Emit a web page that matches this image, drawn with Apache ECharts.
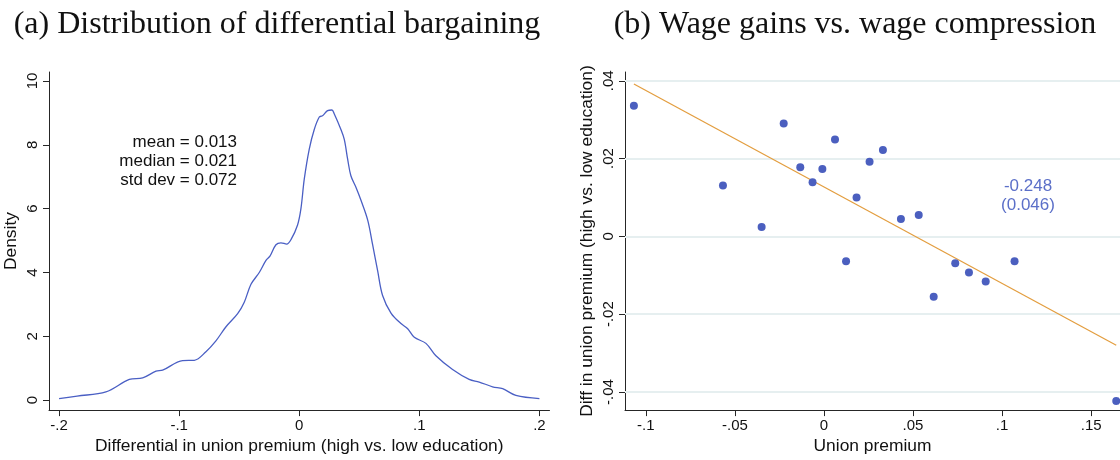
<!DOCTYPE html>
<html>
<head>
<meta charset="utf-8">
<script src="https://cdn.jsdelivr.net/npm/echarts@6/dist/echarts.min.js"></script>
<style>
  html, body { margin: 0; padding: 0; background: #fff; }
  #chart { width: 1120px; height: 460px; }
</style>
</head>
<body>
<div id="chart"></div>
<script>
// (a) kernel density of the differential union premium
var densityX = [-0.200, -0.185, -0.161, -0.1415, -0.1304, -0.1193, -0.1138, -0.0971, -0.0874, -0.0777,
  -0.0694, -0.061, -0.0513, -0.0458, -0.0402, -0.0333, -0.0277, -0.0244, -0.0194, -0.0152,
  -0.0105, -0.0069, -0.0014, 0.0014, 0.0042, 0.0083, 0.0125, 0.0167, 0.0194, 0.0236,
  0.0272, 0.0291, 0.0347, 0.0375, 0.0403, 0.043, 0.0472, 0.0514, 0.057, 0.0611,
  0.0653, 0.0694, 0.0764, 0.0847, 0.0903, 0.0958, 0.1055, 0.1138, 0.1277, 0.1415,
  0.1499, 0.161, 0.1694, 0.1804, 0.200];
var densityY = [0.05, 0.13, 0.26, 0.65, 0.70, 0.91, 0.94, 1.24, 1.25, 1.52,
  1.86, 2.30, 2.71, 3.07, 3.63, 4.00, 4.38, 4.51, 4.87, 4.93,
  4.89, 5.03, 5.49, 6.00, 6.93, 7.86, 8.48, 8.87, 8.91, 9.07,
  9.09, 8.97, 8.48, 8.17, 7.55, 7.03, 6.67, 6.26, 5.64, 4.87,
  4.05, 3.28, 2.73, 2.40, 2.24, 1.97, 1.78, 1.39, 0.96, 0.65,
  0.57, 0.42, 0.36, 0.15, 0.05];
var densityXTicks = [-0.2, -0.1, 0, 0.1, 0.2];
var densityYTicks = [0, 2, 4, 6, 8, 10];
var densityStats = ['mean = 0.013', 'median = 0.021', 'std dev = 0.072'];

// (b) binned scatter: union premium vs. diff in premium
var premiumX = [-0.1067, -0.0567, -0.035, -0.0226, -0.0133, -0.0064, -0.0009, 0.0062, 0.0124, 0.0183,
  0.0256, 0.0331, 0.0432, 0.0532, 0.0616, 0.0737, 0.0814, 0.0908, 0.1070, 0.1641];
var diffY = [0.0336, 0.0131, 0.0024, 0.0290, 0.0178, 0.0139, 0.0173, 0.0249, -0.0064, 0.0100,
  0.0192, 0.0222, 0.0045, 0.0055, -0.0155, -0.0069, -0.0093, -0.0116, -0.0064, -0.0423];
var fitSlope = -0.248;
var fitIntercept = 0.0127;
var fitText = ['-0.248', '(0.046)'];
var scatterXTicks = [-0.1, -0.05, 0, 0.05, 0.1, 0.15];
var scatterYTicks = [-0.04, -0.02, 0, 0.02, 0.04];

function stataFmt(v) {
  if (v === 0) return '0';
  return String(v).replace('0.', '.');
}

var sans = 'Liberation Sans, Arial, sans-serif';
var axisCol = '#262626';

function valueAxis(idx, min, max, ticks, fmt, isY) {
  return {
    type: 'value',
    gridIndex: idx,
    min: min,
    max: max,
    axisLine: { show: true, onZero: false, lineStyle: { color: axisCol, width: 1 } },
    axisTick: { show: true, length: 6, customValues: ticks, lineStyle: { color: axisCol } },
    axisLabel: {
      customValues: ticks,
      formatter: fmt,
      color: '#111',
      fontFamily: sans,
      fontSize: 15,
      margin: isY ? 9 : 8,
      rotate: isY ? 90 : 0
    },
    splitLine: { show: false }
  };
}

var densityData = densityX.map(function (x, i) { return [x, densityY[i]]; });
var scatterData = premiumX.map(function (x, i) { return [x, diffY[i]]; });
var xLo = Math.min.apply(null, premiumX);
var xHi = Math.max.apply(null, premiumX);
var fitData = [[xLo, fitIntercept + fitSlope * xLo], [xHi, fitIntercept + fitSlope * xHi]];

var chart = echarts.init(document.getElementById('chart'));

var xa0 = valueAxis(0, -0.2084, 0.2084, densityXTicks, stataFmt, false);
xa0.name = 'Differential in union premium (high vs. low education)';
var ya0 = valueAxis(0, -0.31, 10.28, densityYTicks, function (v) { return String(v); }, true);
ya0.name = 'Density';
var xa1 = valueAxis(1, -0.1117, 0.1662, scatterXTicks, stataFmt, false);
xa1.name = 'Union premium';
var ya1 = valueAxis(1, -0.04466, 0.04227, scatterYTicks, stataFmt, true);
ya1.name = 'Diff in union premium (high vs. low education)';

[xa0, xa1].forEach(function (a) {
  a.nameLocation = 'middle';
  a.nameGap = 24;
  a.nameTextStyle = { color: '#111', fontFamily: sans, fontSize: 17.4 };
});
[ya0, ya1].forEach(function (a) {
  a.nameLocation = 'middle';
  a.nameGap = 29;
  a.nameTextStyle = { color: '#111', fontFamily: sans, fontSize: 17.4 };
});

chart.setOption({
  animation: false,
  backgroundColor: '#fff',
  title: [
    {
      text: '(a) Distribution of differential bargaining',
      left: 272, top: 4, textAlign: 'center',
      textStyle: { fontFamily: 'Liberation Serif, serif', fontSize: 32, fontWeight: 'normal', color: '#111' }
    },
    {
      text: '(b) Wage gains vs. wage compression',
      left: 850, top: 4, textAlign: 'center',
      textStyle: { fontFamily: 'Liberation Serif, serif', fontSize: 32, fontWeight: 'normal', color: '#111' }
    }
  ],
  grid: [
    { left: 49, top: 72, width: 500.5, bottom: 46 },
    { left: 625, top: 72, right: 0, bottom: 46 }
  ],
  xAxis: [xa0, xa1],
  yAxis: [ya0, ya1],
  graphic: [
    {
      type: 'text', x: 237, y: 161,
      style: {
        text: densityStats.join('\n'),
        align: 'right', verticalAlign: 'middle',
        font: '17px ' + sans, fill: '#111', lineHeight: 19
      }
    },
    {
      type: 'text', x: 1028, y: 196,
      style: {
        text: fitText.join('\n'),
        align: 'center', verticalAlign: 'middle',
        font: '17px ' + sans, fill: '#5b6fc8', lineHeight: 19
      }
    }
  ],
  series: [
    {
      name: 'density',
      type: 'line',
      xAxisIndex: 0, yAxisIndex: 0,
      data: densityData,
      showSymbol: false,
      smooth: 0.35,
      lineStyle: { color: '#4a5fc4', width: 1.3 }
    },
    {
      name: 'gridlines',
      type: 'line',
      xAxisIndex: 1, yAxisIndex: 1,
      data: [],
      z: 1,
      markLine: {
        silent: true,
        z: 1,
        symbol: ['none', 'none'],
        label: { show: false },
        lineStyle: { color: '#e6eff0', width: 1.8, type: 'solid' },
        data: scatterYTicks.map(function (v) { return { yAxis: v }; })
      }
    },
    {
      name: 'fit',
      type: 'line',
      xAxisIndex: 1, yAxisIndex: 1,
      data: fitData,
      showSymbol: false,
      z: 6,
      lineStyle: { color: '#e39d3e', width: 1.2 }
    },
    {
      name: 'bins',
      type: 'scatter',
      xAxisIndex: 1, yAxisIndex: 1,
      data: scatterData,
      symbolSize: 8,
      z: 7,
      itemStyle: { color: '#4b5fbf', opacity: 1 }
    }
  ]
});
</script>
</body>
</html>
